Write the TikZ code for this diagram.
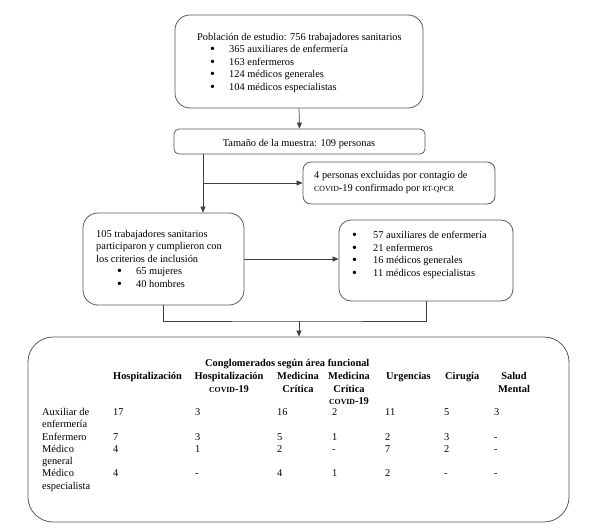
\documentclass[tikz,border=0pt]{standalone}
\usepackage{fontspec}
\setmainfont{Liberation Serif}
\usetikzlibrary{arrows.meta}
\newcommand{\myCovid}{{\fontsize{7.8}{9}\selectfont COVID}-19}
\newcommand{\myRtq}{{\fontsize{7.8}{9}\selectfont RT-QPCR}}
\newcommand{\myBul}{{\fontsize{14}{14}\selectfont\raisebox{-1.3pt}{\textbullet}}}
\begin{document}
\begin{tikzpicture}[x=1pt,y=-1pt,
  font=\fontsize{10.4}{12.6}\selectfont,
  box/.style={draw=black!65, line width=0.8pt, inner sep=0pt},
  txt/.style={inner sep=0pt, anchor=base west},
  ctxt/.style={inner sep=0pt, anchor=base},
  bul/.style={inner sep=0pt, anchor=base west, xshift=-1pt},
  hd/.style={inner sep=0pt, anchor=base west, font=\fontsize{10.4}{12.6}\selectfont\bfseries},
  chd/.style={inner sep=0pt, anchor=base, font=\fontsize{10.4}{12.6}\selectfont\bfseries},
  conn/.style={draw=black!75, line width=0.7pt},
  arr/.style={conn, -{Triangle[length=6pt,width=5pt]}}]
\useasboundingbox (0,0) rectangle (589,530);
% boxes
\node[box, rounded corners=15pt, minimum width=248pt, minimum height=93pt] (b1) at (299,61.5) {};
\node[box, rounded corners=5pt, minimum width=251pt, minimum height=25pt] (b2) at (299.5,141.5) {};
\node[box, rounded corners=8pt, minimum width=192pt, minimum height=42pt] (b3) at (399,183) {};
\node[box, rounded corners=15pt, minimum width=161pt, minimum height=92pt] (b4) at (163.5,259) {};
\node[box, rounded corners=12pt, minimum width=174pt, minimum height=81pt] (b5) at (426,260.5) {};
\node[box, rounded corners=25pt, minimum width=541pt, minimum height=185pt] (b6) at (298.5,429.5) {};
% box 1 text
\node[txt] (t1) at (197,40) {Población de estudio: 756 trabajadores sanitarios};
\node[bul] (t1a) at (211,52.5) {\myBul};
\node[bul] (t1b) at (211,65) {\myBul};
\node[bul] (t1c) at (211,77.5) {\myBul};
\node[bul] (t1d) at (211,90) {\myBul};
\node[txt] (t1e) at (229,52.5) {365 auxiliares de enfermería};
\node[txt] (t1f) at (229,65) {163 enfermeros};
\node[txt] (t1g) at (229,77.5) {124 médicos generales};
\node[txt] (t1h) at (229,90) {104 médicos especialistas};
% box 2 text
\node[ctxt] (t2) at (299,146.5) {Tamaño de la muestra: 109 personas};
% box 3 text
\node[txt] (t3a) at (314,178.5) {4 personas excluidas por contagio de};
\node[txt] (t3b) at (314,191.5) {\myCovid{} confirmado por \myRtq};
% box 4 text
\node[txt] (t4a) at (96,237) {105 trabajadores sanitarios};
\node[txt] (t4b) at (96,249.5) {participaron y cumplieron con};
\node[txt] (t4c) at (96,262) {los criterios de inclusión};
\node[bul] (t4d) at (118,274.5) {\myBul};
\node[bul] (t4e) at (118,287) {\myBul};
\node[txt] (t4f) at (136,274.5) {65 mujeres};
\node[txt] (t4g) at (136,287) {40 hombres};
% box 5 text
\node[bul] (t5a) at (353,238) {\myBul};
\node[bul] (t5b) at (353,251) {\myBul};
\node[bul] (t5c) at (353,263.5) {\myBul};
\node[bul] (t5d) at (353,276) {\myBul};
\node[txt] (t5e) at (373,238) {57 auxiliares de enfermería};
\node[txt] (t5f) at (373,251) {21 enfermeros};
\node[txt] (t5g) at (373,263.5) {16 médicos generales};
\node[txt] (t5h) at (373,276) {11 médicos especialistas};
% connectors
\coordinate (c1) at (203,0);
\coordinate (j1) at (203,183);
\coordinate (jm) at (299,321);
\draw[arr] (b1.south) -- (b2.north);
\draw[arr] (b2.south -| c1) -- (b4.north -| c1);
\draw[arr] (j1) -- (b3.west);
\draw[arr] (b4.east) -- (b4.east -| b5.west);
\draw[conn] (b4.south) |- (jm) -| (b5.south);
\draw[arr] (jm) -- (jm |- b6.north);
% table header
\node[hd] (h0) at (205,366) {Conglomerados según área funcional};
\node[hd] (h1) at (113,379.5) {Hospitalización};
\node[chd] (h2) at (229,379.5) {Hospitalización};
\node[chd] (h2b) at (229,392) {\myCovid};
\node[chd] (h3) at (298,379.5) {Medicina};
\node[chd] (h3b) at (298,392) {Crítica};
\node[chd] (h4) at (349,379.5) {Medicina};
\node[chd] (h4b) at (349,392) {Crítica};
\node[chd] (h4c) at (349,404.5) {\myCovid};
\node[hd] (h5) at (386,379.5) {Urgencias};
\node[hd] (h6) at (445,379.5) {Cirugía};
\node[chd] (h7) at (514,379.5) {Salud};
\node[chd] (h7b) at (514,392) {Mental};
% row labels
\node[txt] (r1) at (42,415) {Auxiliar de};
\node[txt] (r1b) at (42,427.5) {enfermería};
\node[txt] (r2) at (42,440) {Enfermero};
\node[txt] (r3) at (42,452) {Médico};
\node[txt] (r3b) at (42,464.5) {general};
\node[txt] (r4) at (42,476.5) {Médico};
\node[txt] (r4b) at (42,489) {especialista};
% data
\foreach \v [count=\i] in {17,3,16,2,11,5,3} {
  \pgfmathsetmacro{\xx}{{113,195,277,332,385,444,494}[\i-1]}
  \node[txt] (da\i) at (\xx,415) {\v};}
\foreach \v [count=\i] in {7,3,5,1,2,3,-} {
  \pgfmathsetmacro{\xx}{{113,195,277,332,385,444,494}[\i-1]}
  \node[txt] (db\i) at (\xx,440) {\v};}
\foreach \v [count=\i] in {4,1,2,-,7,2,-} {
  \pgfmathsetmacro{\xx}{{113,195,277,332,385,444,494}[\i-1]}
  \node[txt] (dc\i) at (\xx,452) {\v};}
\foreach \v [count=\i] in {4,-,4,1,2,-,-} {
  \pgfmathsetmacro{\xx}{{113,195,277,332,385,444,494}[\i-1]}
  \node[txt] (dd\i) at (\xx,476.5) {\v};}
\end{tikzpicture}
\end{document}
